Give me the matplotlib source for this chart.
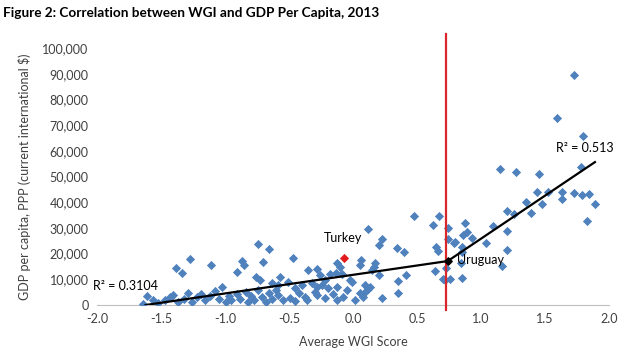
import numpy as np
import matplotlib
matplotlib.use('Agg')
import matplotlib.pyplot as plt
from matplotlib.ticker import FuncFormatter

plt.rcParams['font.family'] = ['Lato', 'DejaVu Sans']

# 平均WGIスコア と 一人当たりGDP(千ドル)
wgi = [
    -1.64, -1.61, -1.56, -1.52, -1.47, -1.43, -1.41, -1.38, -1.34, -1.37,
    -1.32, -1.29, -1.27, -1.26, -1.22, -1.19, -1.16, -1.11, -1.12, -1.08,
    -1.05, -1.02, -0.99, -0.97, -0.95, -0.91, -0.91, -0.88, -0.87, -0.85,
    -0.84, -0.82, -0.80, -0.77, -0.76, -0.73, -0.74, -0.74, -0.71, -0.70,
    -0.68, -0.66, -0.66, -0.63, -0.63, -0.60, -0.59, -0.57, -0.59, -0.55,
    -0.51, -0.49, -0.47, -0.45, -0.45, -0.42, -0.40, -0.375, -0.36, -0.35,
    -0.32, -0.30, -0.28, -0.28, -0.28, -0.26, -0.24, -0.22, -0.22, -0.195,
    -0.18, -0.16, -0.13, -0.125, -0.125, -0.125, -0.10, -0.086, -0.078, -0.047,
    -0.02, -0.008, 0.016, 0.055, 0.06, 0.055, 0.08, 0.09, 0.09, 0.12,
    0.12, 0.13, 0.15, 0.16, 0.17, 0.20, 0.20, 0.23, 0.23, 0.34,
    0.35, 0.35, 0.40, 0.41, 0.48, 0.625, 0.67, 0.65, 0.66, 0.64,
    0.72, 0.74, 0.74, 0.79, 0.73, 0.76, 0.70, 0.80, 0.85, 0.85,
    0.84, 0.85, 0.875, 0.89, 0.86, 0.93, 1.04, 1.09, 1.20, 1.20,
    1.16, 1.20, 1.26, 1.15, 1.27, 1.45, 1.35, 1.39, 1.44, 1.48,
    1.52, 1.63, 1.63, 1.73, 1.78, 1.79, 1.84, 1.89, 1.83, 1.73,
    1.59, 1.80,
]
gdp_k = [
    0.4, 3.5, 1.9, 0.8, 1.9, 3.1, 3.9, 14.4, 12.5, 1.2,
    2.3, 4.7, 17.9, 1.2, 3.1, 4.3, 1.9, 15.6, 3.5, 5.4,
    2.3, 7.0, 1.2, 3.5, 1.9, 12.8, 4.3, 2.3, 17.1, 15.6,
    5.1, 1.2, 3.5, 1.9, 10.9, 9.7, 23.7, 5.8, 3.1, 16.7,
    1.2, 21.8, 4.7, 8.6, 2.3, 5.8, 7.8, 10.9, 3.9, 1.9,
    8.9, 2.7, 18.3, 6.6, 1.6, 4.7, 7.8, 3.1, 1.9, 13.6,
    8.6, 5.1, 14.0, 7.0, 3.9, 11.7, 7.8, 9.7, 2.7, 6.6,
    12.1, 4.3, 12.5, 16.3, 7.0, 1.9, 14.8, 12.1, 3.1, 5.8,
    9.7, 8.9, 1.9, 15.6, 17.5, 4.7, 3.1, 7.8, 5.1, 29.6,
    6.2, 7.0, 13.6, 14.8, 16.3, 11.7, 23.3, 25.7, 2.7, 22.2,
    9.3, 4.7, 20.6, 11.7, 34.6, 31.1, 34.6, 22.6, 21.0, 13.2,
    9.7, 30.0, 25.7, 24.1, 14.4, 10.1, 10.1, 24.5, 22.6, 20.6,
    16.3, 10.5, 31.9, 28.4, 27.2, 26.1, 24.1, 30.7, 28.8, 21.4,
    15.2, 36.6, 35.4, 52.9, 51.7, 51.0, 40.1, 35.8, 44.0, 39.3,
    44.0, 44.0, 41.2, 43.6, 53.7, 42.8, 43.2, 39.3, 32.7, 89.5,
    72.8, 65.8,
]

turkey = (-0.07, 18.3)
uruguay = (0.74, 17.1)
cutoff = 0.725

# 回帰線の端点
left_fit_x = [-1.62, 0.74]
left_fit_y = [0.0, 17.1]
right_fit_x = [0.74, 1.89]
right_fit_y = [17.1, 55.6]

x_ticks = [-2.0, -1.5, -1.0, -0.5, 0.0, 0.5, 1.0, 1.5, 2.0]
y_ticks = [0, 10000, 20000, 30000, 40000, 50000, 60000, 70000, 80000, 90000, 100000]


def main():
    fig = plt.figure(figsize=(6.4, 3.6), dpi=100)
    ax = fig.add_axes([0.1516, 0.1528, 0.80, 0.7139])

    blue = '#4F81BD'
    ax.scatter(wgi, np.array(gdp_k) * 1000, marker='D', s=22, color=blue,
               linewidths=0, zorder=3)
    ax.scatter([turkey[0]], [turkey[1] * 1000], marker='D', s=22, color='#E31A1C',
               linewidths=0, zorder=4)

    ax.plot(left_fit_x, np.array(left_fit_y) * 1000, color='black', lw=1.6, zorder=5)
    ax.plot(right_fit_x, np.array(right_fit_y) * 1000, color='black', lw=1.6, zorder=5)
    ax.scatter([uruguay[0]], [uruguay[1] * 1000], marker='D', s=14, color='black', zorder=6)

    ax.plot([cutoff, cutoff], [-2000, 105500], color='#D9262B', lw=1.6,
            clip_on=False, zorder=4)

    ax.text(turkey[0] - 0.01, 26000, 'Turkey', fontsize=9, ha='center', va='center')
    ax.text(0.81, 17500, 'Uruguay', fontsize=9, ha='left', va='center')
    ax.text(-1.78, 7200, 'R² = 0.3104', fontsize=9, ha='center', va='center')
    ax.text(1.81, 61000, 'R² = 0.513', fontsize=9, ha='center', va='center')

    ax.set_xlim(-2.0, 2.0)
    ax.set_ylim(0, 100000)
    ax.set_xticks(x_ticks)
    ax.set_yticks(y_ticks)
    ax.xaxis.set_major_formatter(FuncFormatter(lambda v, p: f'{v:.1f}'))
    ax.yaxis.set_major_formatter(FuncFormatter(lambda v, p: f'{int(v):,}'))
    ax.tick_params(length=0, labelsize=9, colors='#404040', pad=6)
    for s in ['left', 'top', 'right']:
        ax.spines[s].set_visible(False)
    ax.spines['bottom'].set_color('#BFBFBF')

    ax.set_xlabel('Average WGI Score', fontsize=9, color='#404040', labelpad=8)
    ax.set_ylabel('GDP per capita, PPP (current international $)', fontsize=9,
                  color='#404040', labelpad=8)

    fig.text(0.005, 0.965, 'Figure 2: Correlation between WGI and GDP Per Capita, 2013',
             fontsize=9.8, fontweight='bold', ha='left', va='center')

    fig.savefig('out.png', dpi=100)


if __name__ == '__main__':
    main()
